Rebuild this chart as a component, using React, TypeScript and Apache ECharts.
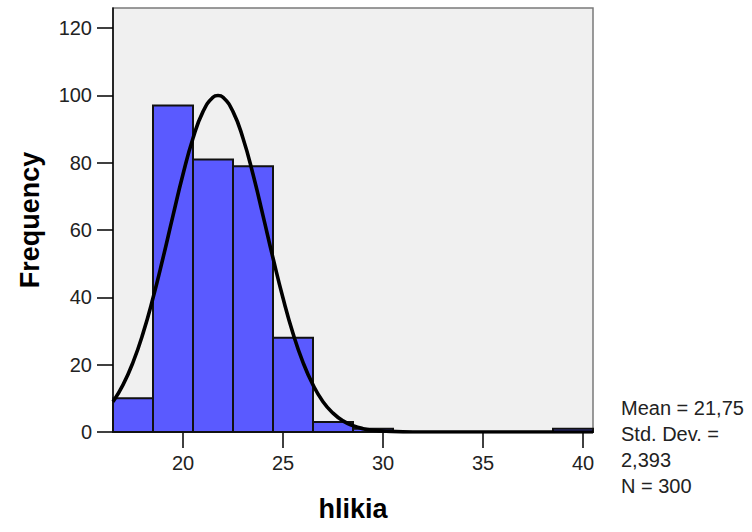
import React, { useEffect, useRef } from "react";
import * as echarts from "echarts";

// Histogram bins (left edge, right edge) and frequencies
const binStarts = [16.5, 18.5, 20.5, 22.5, 24.5, 26.5, 28.5, 30.5, 32.5, 34.5, 36.5, 38.5];
const binWidth = 2;
const counts = [10, 97, 81, 79, 28, 3, 1, 0, 0, 0, 0, 1];

// Normal curve points
const curveX = [16.5, 17, 17.5, 18, 18.5, 19, 19.5, 20, 20.5, 21, 21.5, 21.75, 22, 22.5, 23, 23.5, 24, 24.5, 25, 25.5, 26, 26.5, 27, 27.5, 28, 28.5, 29, 29.5, 30, 31, 32, 34, 36, 38, 40.5];
const curveY = [9, 14, 20.7, 29.3, 39.8, 51.7, 64.3, 76.6, 87.3, 95.2, 99.5, 100, 99.5, 95.2, 87.3, 76.6, 64.3, 51.7, 39.8, 29.3, 20.7, 14, 9, 5.6, 3.3, 1.9, 1, 0.5, 0.3, 0.05, 0, 0, 0, 0, 0];

const xTicks = [20, 25, 30, 35, 40];
const yTicks = [0, 20, 40, 60, 80, 100, 120];

const statsLines = ["Mean = 21,75", "Std. Dev. =", "2,393", "N = 300"];

export default function App() {
  const ref = useRef<HTMLDivElement>(null);
  useEffect(() => {
    if (!ref.current) return;
    const chart = echarts.init(ref.current, null, { renderer: "svg" });
    const font = "Liberation Sans, Arial, sans-serif";
    chart.setOption({
      animation: false,
      backgroundColor: "#ffffff",
      grid: {
        left: 113,
        top: 8,
        right: 159,
        bottom: 100,
        containLabel: false,
        outerBoundsMode: "none",
        show: true,
        backgroundColor: "#f0f0f0",
        borderColor: "#7a7a7a",
        borderWidth: 1.5,
      },
      xAxis: {
        type: "value",
        min: 16.5,
        max: 40.5,
        name: "hlikia",
        nameLocation: "middle",
        nameGap: 63,
        nameTextStyle: { fontFamily: font, fontSize: 27, fontWeight: "bold", color: "#000" },
        axisLine: { show: true, onZero: false, lineStyle: { color: "#000", width: 1.5 } },
        axisTick: { show: true, length: 16, customValues: xTicks, lineStyle: { color: "#000", width: 1.5 } },
        axisLabel: { customValues: xTicks, margin: 21, fontFamily: font, fontSize: 20, color: "#222" },
        splitLine: { show: false },
      },
      yAxis: {
        type: "value",
        min: 0,
        max: 126,
        name: "Frequency",
        nameLocation: "middle",
        nameGap: 70,
        nameRotate: 90,
        nameTextStyle: { fontFamily: font, fontSize: 27, fontWeight: "bold", color: "#000" },
        axisLine: { show: true, lineStyle: { color: "#000", width: 1.5 } },
        axisTick: { show: true, length: 16, customValues: yTicks, lineStyle: { color: "#000", width: 1.5 } },
        axisLabel: { customValues: yTicks, margin: 21, fontFamily: font, fontSize: 20, color: "#222" },
        splitLine: { show: false },
      },
      series: [
        {
          type: "custom",
          data: binStarts.map((s, i) => [s, s + binWidth, counts[i]]),
          renderItem: (params: any, api: any) => {
            const x0 = api.value(0);
            const x1 = api.value(1);
            const v = api.value(2);
            if (!v) return null;
            const p0 = api.coord([x0, v]);
            const p1 = api.coord([x1, 0]);
            return {
              type: "rect",
              shape: { x: p0[0], y: p0[1], width: p1[0] - p0[0], height: p1[1] - p0[1] },
              style: { fill: "#5a5aff", stroke: "#111", lineWidth: 2 },
            };
          },
          encode: { x: [0, 1], y: 2 },
          z: 2,
        },
        {
          type: "line",
          data: curveX.map((x, i) => [x, curveY[i]]),
          smooth: true,
          showSymbol: false,
          lineStyle: { color: "#000", width: 3.6 },
          z: 3,
        },
      ],
      graphic: [
        {
          type: "text",
          left: 621,
          top: 395,
          style: {
            text: statsLines.join("\n"),
            font: `20px ${font}`,
            fill: "#222",
            lineHeight: 26,
          },
        },
      ],
    });
    return () => chart.dispose();
  }, []);
  return (
    <div
      ref={ref}
      style={{ position: "absolute", left: 0, top: 0, width: 752, height: 532 }}
    />
  );
}
